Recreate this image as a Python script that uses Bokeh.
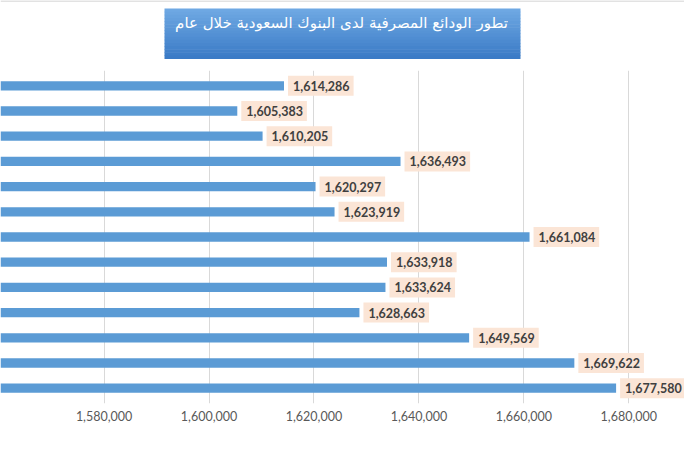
from bokeh.plotting import figure
from bokeh.layouts import column
from bokeh.models import FactorRange, Range1d, FixedTicker, NumeralTickFormatter
from bokeh.core.properties import value
from bokeh.embed import file_html
from bokeh.resources import INLINE

# ---- data (top bar first) ----
periods = ["P01", "P02", "P03", "P04", "P05", "P06", "P07",
           "P08", "P09", "P10", "P11", "P12", "P13"]
deposits = [1614286, 1605383, 1610205, 1636493, 1620297, 1623919, 1661084,
            1633918, 1633624, 1628663, 1649569, 1669622, 1677580]
deposit_labels = ["1,614,286", "1,605,383", "1,610,205", "1,636,493", "1,620,297",
                  "1,623,919", "1,661,084", "1,633,918", "1,633,624", "1,628,663",
                  "1,649,569", "1,669,622", "1,677,580"]
x_ticks = [1560000, 1580000, 1600000, 1620000, 1640000, 1660000, 1680000]
title_text = "تطور الودائع المصرفية لدى البنوك السعودية خلال عام"

W = 684
TITLE_H = 70
MAIN_H = 364

X_START = 1560255
X_END = 1690616
BAR_BASE = 1500000

# ---------------- title strip ----------------
t = figure(width=W, height=TITLE_H, output_backend="svg", toolbar_location=None,
           x_range=Range1d(0, W), y_range=Range1d(TITLE_H, 0),
           min_border=0, x_axis_type=None, y_axis_type=None)
t.outline_line_color = None
t.xgrid.visible = False
t.ygrid.visible = False

# thin light-grey border line at top of chart area
t.segment(x0=[0], x1=[W], y0=[0.5], y1=[0.5], line_color="#D9D9D9", line_width=1.5)

# gradient box (stacked slices)
top_c = (0x6E, 0xA8, 0xE3)
bot_c = (0x3B, 0x7B, 0xC6)
n = 16
box_l, box_r, box_t, box_b = 164, 520, 8, 58
lefts, rights, tops, bottoms, colors = [], [], [], [], []
for i in range(n):
    f = i / (n - 1)
    c = tuple(int(round(a + (b - a) * f)) for a, b in zip(top_c, bot_c))
    lefts.append(box_l)
    rights.append(box_r)
    tops.append(box_t + (box_b - box_t) * i / n)
    bottoms.append(box_t + (box_b - box_t) * (i + 1) / n + 0.5)
    colors.append("#%02X%02X%02X" % c)
t.quad(left=lefts, right=rights, top=tops, bottom=bottoms,
       fill_color=colors, line_color=None)
t.text(x=[341], y=[22], text=[title_text], text_align="center", text_baseline="middle",
       text_font=value("DejaVu Sans"), text_font_size="15px", text_color="white")

# ---------------- main bar chart ----------------
p = figure(width=W, height=MAIN_H, output_backend="svg", toolbar_location=None,
           y_range=FactorRange(*reversed(periods), range_padding=0.0165),
           x_range=Range1d(X_START, X_END),
           min_border_left=0, min_border_right=0, min_border_top=0, min_border_bottom=31)
p.outline_line_color = None

p.hbar(y=periods, left=BAR_BASE, right=deposits, height=0.37,
       fill_color="#5B9BD5", line_color=None)

p.text(x=deposits, y=periods, text=deposit_labels, x_offset=4,
       text_align="left", text_baseline="middle",
       text_font=value("Lato"), text_font_size="12.5px", text_font_style="bold",
       text_color="#404040", background_fill_color="#FBE5D6",
       padding=dict(left=5, right=4, top=5, bottom=5))

p.yaxis.visible = False
xa = p.xaxis[0]
xa.ticker = FixedTicker(ticks=x_ticks)
xa.formatter = NumeralTickFormatter(format="0,0")
xa.axis_line_color = None
xa.major_tick_line_color = None
xa.minor_tick_line_color = None
xa.major_tick_out = 0
xa.major_tick_in = 0
xa.major_label_standoff = 7
xa.major_label_text_font = "Lato"
xa.major_label_text_font_size = "12.5px"
xa.major_label_text_color = "#595959"

p.xgrid.ticker = FixedTicker(ticks=x_ticks)
p.xgrid.grid_line_color = "#D9D9D9"
p.ygrid.grid_line_color = None

layout = column(t, p, spacing=0)
open("out.html", "w").write(file_html(layout, INLINE))
